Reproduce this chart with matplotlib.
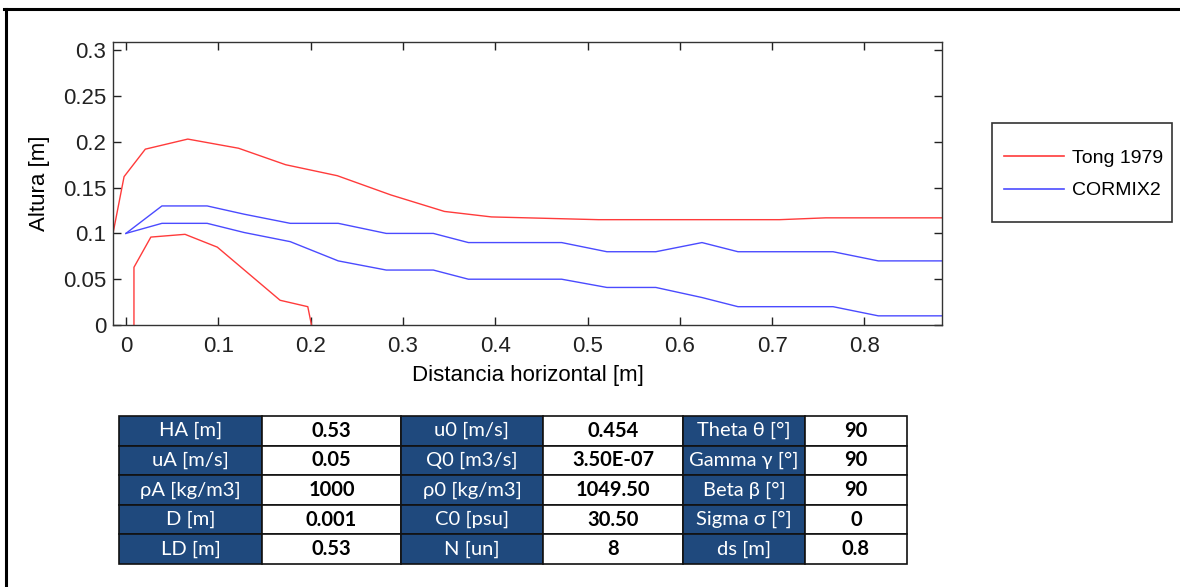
import numpy as np
import matplotlib.pyplot as plt
from matplotlib.patches import Rectangle
from matplotlib.lines import Line2D

# Tong 1979 - upper and lower edge
tong_up_x = [-0.014, -0.014, -0.002, 0.021, 0.067, 0.122, 0.173, 0.229, 0.287, 0.345,
             0.396, 0.512, 0.708, 0.758, 0.884]
tong_up_y = [0.0, 0.100, 0.162, 0.192, 0.203, 0.193, 0.175, 0.163, 0.142, 0.124,
             0.118, 0.115, 0.115, 0.117, 0.117]
tong_lo_x = [0.0087, 0.0087, 0.027, 0.064, 0.099, 0.167, 0.197, 0.201]
tong_lo_y = [0.0, 0.063, 0.096, 0.099, 0.085, 0.027, 0.020, 0.0]

# CORMIX2 - upper and lower edge
cormix_x = [0.0, 0.039, 0.088, 0.128, 0.178, 0.230, 0.282, 0.333, 0.371, 0.472,
            0.521, 0.574, 0.624, 0.663, 0.766, 0.815, 0.884]
cormix_up = [0.100, 0.130, 0.130, 0.121, 0.111, 0.111, 0.100, 0.100, 0.090, 0.090,
             0.080, 0.080, 0.090, 0.080, 0.080, 0.070, 0.070]
cormix_lo = [0.100, 0.111, 0.111, 0.101, 0.091, 0.070, 0.060, 0.060, 0.050, 0.050,
             0.041, 0.041, 0.030, 0.020, 0.020, 0.010, 0.010]

xticks = [0, 0.1, 0.2, 0.3, 0.4, 0.5, 0.6, 0.7, 0.8]
yticks = [0, 0.05, 0.1, 0.15, 0.2, 0.25, 0.3]
ytick_labels = ['0', '0.05', '0.1', '0.15', '0.2', '0.25', '0.3']

# parameter table
table_rows = [
    ['HA [m]', '0.53', 'u0 [m/s]', '0.454', 'Theta θ [°]', '90'],
    ['uA [m/s]', '0.05', 'Q0 [m3/s]', '3.50E-07', 'Gamma γ [°]', '90'],
    ['ρA [kg/m3]', '1000', 'ρ0 [kg/m3]', '1049.50', 'Beta β [°]', '90'],
    ['D [m]', '0.001', 'C0 [psu]', '30.50', 'Sigma σ [°]', '0'],
    ['LD [m]', '0.53', 'N [un]', '8', 'ds [m]', '0.8'],
]

W, H = 1180, 587
fig = plt.figure(figsize=(W / 100, H / 100), dpi=100)
plt.rcParams['font.family'] = ['Liberation Sans', 'DejaVu Sans']

red = '#ff3b3b'
blue = '#4b4bff'

ax = fig.add_axes([113 / W, 1 - 325 / H, (942 - 113) / W, (325 - 42) / H])
ax.plot(tong_up_x, tong_up_y, color=red, lw=1.0)
ax.plot(tong_lo_x, tong_lo_y, color=red, lw=1.0)
ax.plot(cormix_x, cormix_up, color=blue, lw=1.0)
ax.plot(cormix_x, cormix_lo, color=blue, lw=1.0)

ax.set_xlim(-0.014, 0.884)
ax.set_ylim(0, 0.309)
ax.set_xticks(xticks)
ax.set_xticklabels([('%g' % t) for t in xticks])
ax.set_yticks(yticks)
ax.set_yticklabels(ytick_labels)
ax.tick_params(direction='in', length=6, width=1, top=True, right=True,
               labelsize=16, colors='#222222', pad=5)
ax.tick_params(axis='x', pad=8)
for s in ax.spines.values():
    s.set_color('#333333')
    s.set_linewidth(1)
ax.set_xlabel('Distancia horizontal [m]', fontsize=16, labelpad=6)
ax.set_ylabel('Altura [m]', fontsize=16, labelpad=9)

# legend box outside the axes
fig.patches.append(Rectangle((992 / W, 1 - 222 / H), 180 / W, 99 / H,
                             transform=fig.transFigure, fill=False,
                             edgecolor='#333333', lw=1.2))
handles = [Line2D([], [], color=red, lw=1.2), Line2D([], [], color=blue, lw=1.2)]
fig.legend(handles, ['Tong 1979', 'CORMIX2'], loc='upper left',
           bbox_to_anchor=(1004 / W, 1 - 149 / H), frameon=False, fontsize=14,
           handlelength=3.1, handletextpad=0.4, labelspacing=0.78,
           borderpad=0, borderaxespad=0)

# table
tax = fig.add_axes([119 / W, 1 - 564 / H, (907 - 119) / W, (564 - 416) / H])
tax.axis('off')
col_w = np.array([143, 139, 142, 140, 122, 102], dtype=float)
tbl = tax.table(cellText=table_rows, colWidths=list(col_w / col_w.sum()),
                cellLoc='center', bbox=[0, 0, 1, 1])
tbl.auto_set_font_size(False)
for (r, c), cell in tbl.get_celld().items():
    cell.set_edgecolor('#111111')
    cell.set_linewidth(1.2)
    txt = cell.get_text()
    txt.set_fontfamily(['Lato', 'DejaVu Sans'])
    txt.set_fontsize(14.5)
    if c % 2 == 0:
        cell.set_facecolor('#1f497d')
        txt.set_color('white')
    else:
        cell.set_facecolor('white')
        txt.set_color('black')
        txt.set_fontweight('bold')

# outer frame lines (top and left only)
fig.add_artist(Line2D([4 / W, 1], [1 - 9 / H, 1 - 9 / H], color='black', lw=2.2,
                      transform=fig.transFigure))
fig.add_artist(Line2D([6 / W, 6 / W], [0, 1 - 9 / H], color='black', lw=2.2,
                      transform=fig.transFigure))

fig.savefig('out.png', dpi=100)
